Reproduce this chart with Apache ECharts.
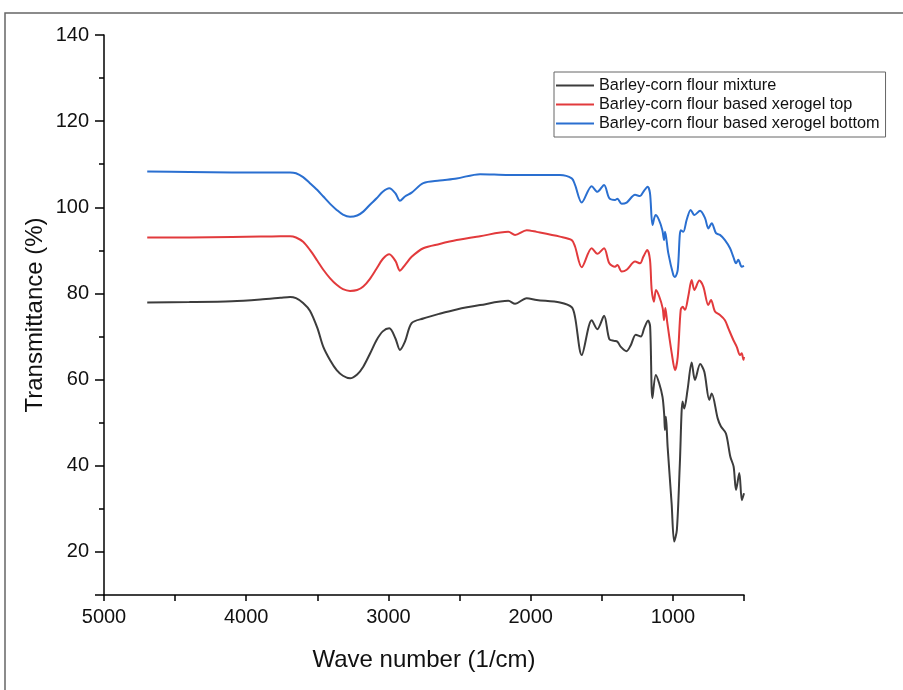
<!DOCTYPE html>
<html>
<head>
<meta charset="utf-8">
<script src="https://cdn.jsdelivr.net/npm/echarts@6/dist/echarts.min.js"></script>
<style>html,body{margin:0;padding:0;background:#fff}#c{width:903px;height:690px}</style>
</head>
<body>
<div id="c"></div>
<script>
// Series names
const seriesNames = ['Barley-corn flour mixture', 'Barley-corn flour based xerogel top', 'Barley-corn flour based xerogel bottom'];

// Barley-corn flour mixture
const mixWn = [4696,4400,4100,3900,3760,3692,3650,3600,3552,3500,3458,3410,3364,3320,3270,3220,3177,3130,3083,3040,2994,2950,2919,2884,2837,2755,2640,2520,2356,2157,2110,2028,1958,1794,1711,1688,1641,1571,1531,1484,1447,1413,1390,1366,1326,1296,1261,1225,1202,1174,1160,1144,1120,1097,1073,1061,1056,1049,1037,1009,991,972,951,932,920,897,868,845,808,779,744,727,685,662,627,596,573,556,533,515,500];
const mixT  = [77.9,78.0,78.2,78.6,79.0,79.2,78.9,77.8,76.0,72.0,67.6,64.5,62.2,60.9,60.3,61.2,63.0,66.0,69.2,71.2,71.9,69.5,66.9,68.8,73.1,74.2,75.3,76.3,77.3,78.3,77.6,78.9,78.5,77.9,76.8,74.5,65.7,73.8,71.7,74.8,69.4,69.0,68.8,67.6,66.6,68.0,70.4,70.0,71.9,73.7,72.3,55.7,61.1,59.2,56.0,51.8,48.3,51.4,44.4,31.3,22.4,25.1,40.6,54.9,53.3,57.6,64.0,59.9,63.6,61.8,55.3,56.8,51.0,49.1,47.5,42.1,39.8,34.4,38.3,32.0,33.6];

// Xerogel top
const topWn = [4696,4400,4100,3900,3760,3692,3650,3600,3552,3500,3458,3410,3364,3320,3270,3220,3177,3130,3083,3040,2994,2950,2919,2884,2837,2755,2640,2520,2356,2157,2110,2028,1958,1794,1711,1688,1641,1571,1531,1484,1447,1407,1390,1360,1325,1266,1231,1208,1180,1161,1149,1133,1119,1096,1072,1062,1053,1039,1008,985,966,945,931,915,892,868,849,814,786,751,732,704,669,634,610,575,551,528,516,504,500];
const topT  = [93.0,93.0,93.1,93.2,93.3,93.3,93.0,92.0,90.1,87.6,85.5,83.5,82.0,81.0,80.6,80.8,81.6,83.4,85.8,88.0,89.1,87.5,85.3,86.6,88.5,90.5,91.5,92.4,93.3,94.3,93.6,94.7,94.3,93.2,92.4,90.9,86.1,90.5,89.2,90.5,87.0,86.2,86.6,85.1,85.5,87.4,87.0,88.5,90.1,87.8,80.8,78.1,80.8,79.3,76.6,73.8,76.6,73.1,66.1,62.2,65.3,76.2,76.9,76.2,79.3,83.1,80.8,83.0,81.6,77.3,78.5,75.8,75.0,73.8,71.9,69.2,67.6,65.7,66.1,64.6,65.3];

// Xerogel bottom
const botWn = [4696,4400,4100,3900,3760,3692,3650,3600,3552,3500,3458,3410,3364,3320,3270,3220,3177,3130,3083,3040,2994,2950,2919,2884,2837,2755,2640,2520,2356,2157,1958,1794,1711,1688,1641,1571,1531,1484,1447,1407,1390,1360,1325,1266,1231,1208,1178,1161,1143,1122,1098,1074,1062,1055,1032,997,985,966,945,927,903,875,849,809,774,751,727,697,669,634,598,575,556,540,516,500];
const botT  = [108.3,108.2,108.1,108.1,108.1,108.1,107.9,107.0,105.6,104.0,102.5,100.8,99.4,98.3,97.8,98.1,99.0,100.6,102.1,103.6,104.4,103.2,101.5,102.5,103.4,105.6,106.2,106.7,107.7,107.5,107.5,107.5,106.7,105.2,101.1,104.9,103.6,105.2,102.1,101.7,102.0,100.8,101.1,102.9,102.6,103.6,104.8,103.3,95.9,98.2,97.1,94.7,92.4,94.3,89.3,84.3,83.8,85.5,94.7,94.3,97.1,99.4,98.2,99.2,97.5,95.1,96.3,94.0,93.6,92.4,90.5,88.5,87.0,87.8,86.2,86.4];

// Axis ticks
const xTickValues = [5000, 4000, 3000, 2000, 1000];
const yTickValues = [140, 120, 100, 80, 60, 40, 20];

const colors = ['#3c3c3c', '#e23a3c', '#2a6fd0'];
const FONT = "'Liberation Sans', Arial, sans-serif";

function pairs(xs, ys) { return xs.map((x, i) => [x, ys[i]]); }

const chart = echarts.init(document.getElementById('c'), null, { renderer: 'canvas' });
chart.setOption({
  animation: false,
  backgroundColor: '#fff',
  textStyle: { fontFamily: FONT },
  graphic: [{
    type: 'rect', silent: true, z: -10,
    shape: { x: 5, y: 13, width: 930, height: 720 },
    style: { fill: 'none', stroke: '#666', lineWidth: 1.5 }
  }],
  grid: { left: 104, right: 159, top: 35, bottom: 95 },
  legend: {
    orient: 'vertical', left: 554, top: 72,
    padding: [4, 6, 4, 2], itemGap: 0,
    itemWidth: 38, itemHeight: 2, icon: 'rect',
    borderColor: '#666', borderWidth: 1,
    textStyle: { fontFamily: FONT, fontSize: 16.3, color: '#111', lineHeight: 19 },
    data: seriesNames
  },
  xAxis: {
    type: 'value', min: 500, max: 5000, interval: 500, inverse: true,
    name: 'Wave number (1/cm)', nameLocation: 'middle', nameGap: 53,
    nameTextStyle: { fontFamily: FONT, fontSize: 24, color: '#111' },
    axisLine: { show: true, onZero: false, lineStyle: { color: '#000', width: 1.5 } },
    axisTick: { show: true, length: 6, lineStyle: { color: '#000', width: 1.5 } },
    axisLabel: {
      margin: 12, fontFamily: FONT, fontSize: 20, color: '#111',
      formatter: v => (xTickValues.indexOf(v) >= 0 ? String(v) : '')
    },
    splitLine: { show: false }
  },
  yAxis: [{
    type: 'value', min: 10, max: 140, interval: 10, position: 'left',
    name: 'Transmittance (%)', nameLocation: 'middle', nameGap: 57,
    nameTextStyle: { fontFamily: FONT, fontSize: 24, color: '#111' },
    axisLine: { show: true, onZero: false, lineStyle: { color: '#000', width: 1.5 } },
    axisTick: { show: true, length: 5, lineStyle: { color: '#000', width: 1.5 } },
    axisLabel: { show: false },
    splitLine: { show: false }
  }, {
    type: 'value', min: -140, max: -10, interval: 20, inverse: true, position: 'left',
    axisLine: { show: false },
    axisTick: { show: true, length: 9, lineStyle: { color: '#000', width: 1.5 } },
    axisLabel: {
      margin: 15, fontFamily: FONT, fontSize: 20, color: '#111',
      formatter: v => (yTickValues.indexOf(-v) >= 0 ? String(-v) : '')
    },
    splitLine: { show: false }
  }],
  series: [
    { name: seriesNames[0], type: 'line', data: pairs(mixWn, mixT), showSymbol: false, smooth: 0.3, lineStyle: { width: 2, color: colors[0] }, itemStyle: { color: colors[0] }, z: 3 },
    { name: seriesNames[1], type: 'line', data: pairs(topWn, topT), showSymbol: false, smooth: 0.3, lineStyle: { width: 2, color: colors[1] }, itemStyle: { color: colors[1] }, z: 4 },
    { name: seriesNames[2], type: 'line', data: pairs(botWn, botT), showSymbol: false, smooth: 0.3, lineStyle: { width: 2, color: colors[2] }, itemStyle: { color: colors[2] }, z: 5 }
  ]
});
</script>
</body>
</html>
